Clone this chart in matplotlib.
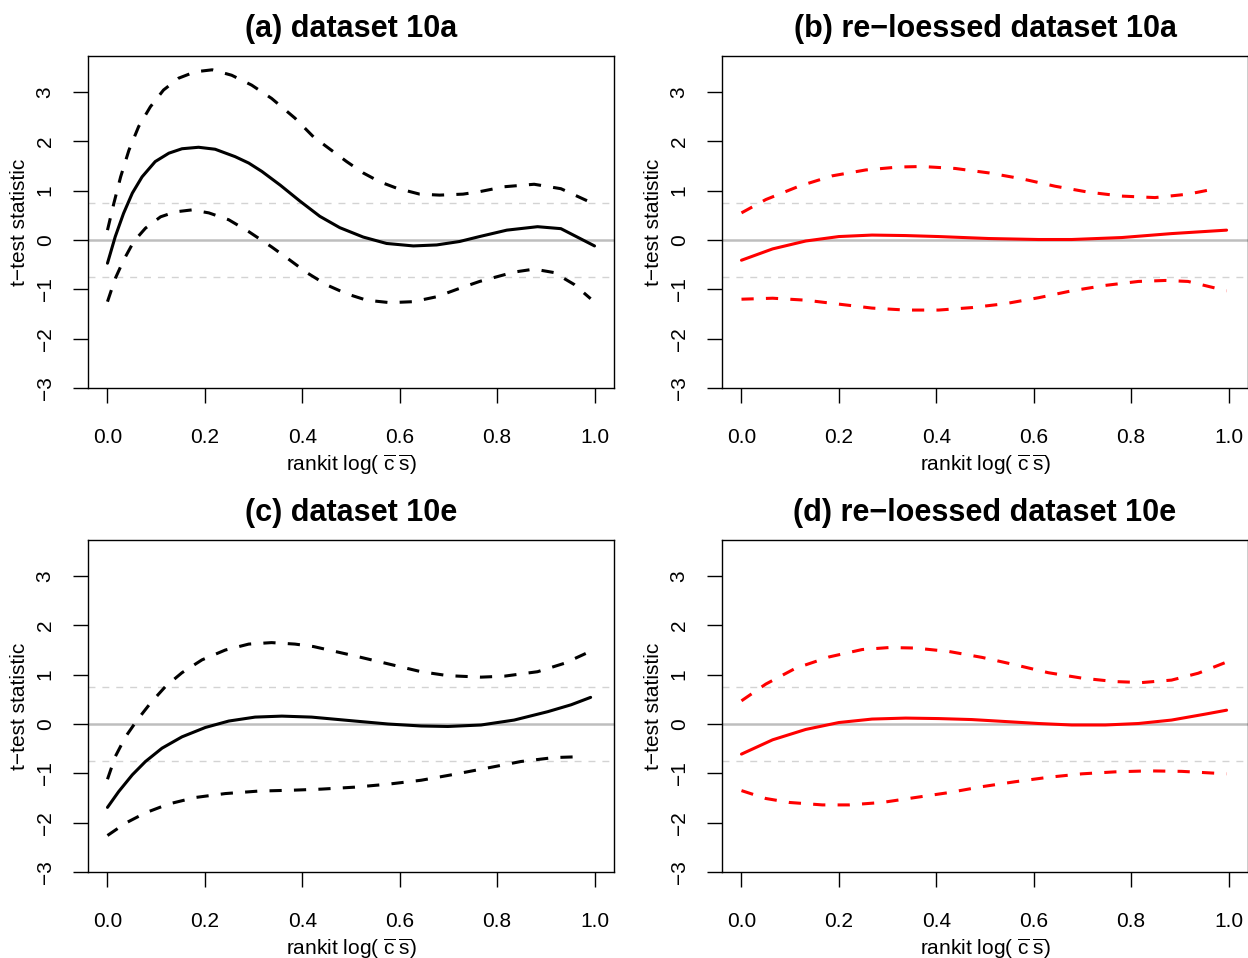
import matplotlib
matplotlib.use("Agg")
import matplotlib.pyplot as plt

plt.rcParams["font.family"] = ["Liberation Sans", "DejaVu Sans"]
plt.rcParams["mathtext.fontset"] = "custom"
plt.rcParams["mathtext.rm"] = "Liberation Sans"
plt.rcParams["mathtext.it"] = "Liberation Sans:italic"

# reference band for the t statistic
band = 0.75

# (a) dataset 10a
a_mid_x = [0, 0.016, 0.033, 0.051, 0.071, 0.098, 0.126, 0.153, 0.187, 0.221, 0.262,
           0.290, 0.317, 0.355, 0.395, 0.436, 0.477, 0.525, 0.573, 0.628, 0.676, 0.723,
           0.764, 0.820, 0.883, 0.931, 1.0]
a_mid_y = [-0.47, 0.07, 0.54, 0.95, 1.28, 1.59, 1.76, 1.85, 1.88, 1.84, 1.69,
           1.56, 1.39, 1.11, 0.79, 0.48, 0.25, 0.06, -0.07, -0.12, -0.10, -0.03,
           0.07, 0.20, 0.27, 0.23, -0.12]
a_up_x = [0, 0.013, 0.027, 0.044, 0.064, 0.088, 0.115, 0.146, 0.180, 0.215, 0.255,
          0.296, 0.337, 0.385, 0.423, 0.457, 0.491, 0.525, 0.559, 0.594, 0.641,
          0.682, 0.730, 0.764, 0.815, 0.876, 0.931, 0.986, 1.0]
a_up_y = [0.20, 0.74, 1.28, 1.82, 2.30, 2.70, 3.04, 3.28, 3.41, 3.45, 3.34,
          3.14, 2.87, 2.47, 2.09, 1.84, 1.59, 1.36, 1.18, 1.05, 0.93,
          0.91, 0.93, 0.98, 1.08, 1.13, 1.04, 0.79, 0.74]
a_lo_x = [0, 0.016, 0.033, 0.054, 0.078, 0.109, 0.139, 0.173, 0.208, 0.249, 0.290,
          0.337, 0.368, 0.409, 0.450, 0.491, 0.532, 0.580, 0.628, 0.676, 0.723,
          0.764, 0.835, 0.876, 0.917, 0.958, 0.992]
a_lo_y = [-1.25, -0.78, -0.41, -0.03, 0.24, 0.47, 0.57, 0.61, 0.55, 0.41, 0.17,
          -0.14, -0.36, -0.66, -0.91, -1.09, -1.22, -1.27, -1.25, -1.15, -0.98,
          -0.84, -0.65, -0.59, -0.66, -0.90, -1.19]

# (b) re-loessed dataset 10a
b_mid_x = [0, 0.064, 0.132, 0.200, 0.268, 0.337, 0.405, 0.508, 0.610, 0.678,
           0.781, 0.883, 0.996]
b_mid_y = [-0.41, -0.18, -0.02, 0.07, 0.10, 0.09, 0.07, 0.03, 0.01, 0.01,
           0.05, 0.13, 0.20]
b_up_x = [0, 0.05, 0.118, 0.186, 0.255, 0.323, 0.371, 0.439, 0.508, 0.576, 0.644,
          0.712, 0.781, 0.849, 0.917, 0.979]
b_up_y = [0.55, 0.82, 1.09, 1.30, 1.42, 1.48, 1.49, 1.45, 1.36, 1.24, 1.09,
          0.97, 0.89, 0.86, 0.93, 1.05]
b_lo_x = [0, 0.064, 0.132, 0.2, 0.268, 0.337, 0.405, 0.473, 0.542, 0.610, 0.678,
          0.747, 0.815, 0.870, 0.917, 0.996]
b_lo_y = [-1.20, -1.18, -1.22, -1.30, -1.38, -1.42, -1.42, -1.37, -1.29, -1.17, -1.03,
          -0.92, -0.84, -0.82, -0.84, -1.03]

# (c) dataset 10e
c_mid_x = [0, 0.023, 0.051, 0.078, 0.112, 0.153, 0.201, 0.249, 0.303, 0.358, 0.419,
           0.508, 0.576, 0.644, 0.699, 0.767, 0.835, 0.904, 0.952, 0.992]
c_mid_y = [-1.69, -1.37, -1.03, -0.76, -0.49, -0.26, -0.07, 0.06, 0.14, 0.16, 0.14,
           0.06, 0.00, -0.04, -0.05, -0.02, 0.08, 0.25, 0.39, 0.54]
c_up_x = [0, 0.016, 0.037, 0.061, 0.088, 0.119, 0.153, 0.194, 0.242, 0.290, 0.337,
          0.385, 0.423, 0.508, 0.576, 0.644, 0.699, 0.767, 0.815, 0.883,
          0.938, 0.982]
c_up_y = [-1.12, -0.66, -0.26, 0.08, 0.42, 0.76, 1.04, 1.30, 1.50, 1.62, 1.65,
          1.62, 1.57, 1.38, 1.22, 1.06, 0.98, 0.95, 0.97, 1.06,
          1.23, 1.43]
c_lo_x = [0, 0.037, 0.078, 0.126, 0.180, 0.242, 0.310, 0.385, 0.439, 0.508, 0.576,
          0.644, 0.712, 0.781, 0.849, 0.917, 0.979]
c_lo_y = [-2.26, -2.01, -1.80, -1.62, -1.49, -1.41, -1.36, -1.34, -1.32, -1.28, -1.22,
          -1.14, -1.02, -0.89, -0.76, -0.68, -0.66]

# (d) re-loessed dataset 10e
d_mid_x = [0, 0.064, 0.132, 0.200, 0.268, 0.337, 0.405, 0.473, 0.542, 0.610, 0.678,
           0.747, 0.815, 0.883, 0.952, 0.996]
d_mid_y = [-0.61, -0.32, -0.11, 0.03, 0.10, 0.12, 0.11, 0.09, 0.05, 0.01, -0.02,
           -0.02, 0.01, 0.08, 0.20, 0.28]
d_up_x = [0, 0.05, 0.111, 0.180, 0.248, 0.303, 0.357, 0.426, 0.494, 0.562, 0.630,
          0.699, 0.767, 0.822, 0.883, 0.938, 0.992]
d_up_y = [0.47, 0.81, 1.13, 1.36, 1.51, 1.55, 1.54, 1.47, 1.35, 1.20, 1.04,
          0.93, 0.86, 0.84, 0.89, 1.03, 1.24]
d_lo_x = [0, 0.05, 0.098, 0.166, 0.221, 0.289, 0.357, 0.426, 0.494, 0.562, 0.630,
          0.699, 0.767, 0.835, 0.904, 0.996]
d_lo_y = [-1.35, -1.51, -1.59, -1.64, -1.64, -1.59, -1.49, -1.39, -1.27, -1.17, -1.08,
          -1.01, -0.97, -0.95, -0.96, -1.01]

titles = ["(a) dataset 10a", "(b) re\u2212loessed dataset 10a",
          "(c) dataset 10e", "(d) re\u2212loessed dataset 10e"]
x_ticks = [0.0, 0.2, 0.4, 0.6, 0.8, 1.0]
y_ticks = [-3, -2, -1, 0, 1, 2, 3]

W, H = 1248, 958
fig = plt.figure(figsize=(W / 100, H / 100), dpi=100)

# axes boxes in pixels: left, top
boxes = [(88, 56), (722, 56), (88, 540), (722, 540)]
box_w, box_h = 526, 332

panels = [
    (a_mid_x, a_mid_y, a_up_x, a_up_y, a_lo_x, a_lo_y, "black"),
    (b_mid_x, b_mid_y, b_up_x, b_up_y, b_lo_x, b_lo_y, "#ff0000"),
    (c_mid_x, c_mid_y, c_up_x, c_up_y, c_lo_x, c_lo_y, "black"),
    (d_mid_x, d_mid_y, d_up_x, d_up_y, d_lo_x, d_lo_y, "#ff0000"),
]

for (left, top), title, (mx, my, ux, uy, lx, ly, col) in zip(boxes, titles, panels):
    ax = fig.add_axes([left / W, (H - top - box_h) / H, box_w / W, box_h / H])

    # reference lines
    ax.axhline(0, color="#bebebe", lw=1.8, zorder=1)
    ax.axhline(band, color="#d3d3d3", lw=1.0, dashes=(5, 5), zorder=1)
    ax.axhline(-band, color="#d3d3d3", lw=1.0, dashes=(5, 5), zorder=1)

    ax.plot(mx, my, color=col, lw=2.2, solid_joinstyle="round",
            solid_capstyle="round", zorder=3)
    ax.plot(ux, uy, color=col, lw=2.2, dashes=(4, 4), zorder=3)
    ax.plot(lx, ly, color=col, lw=2.2, dashes=(4, 4), zorder=3)

    ax.set_xlim(-0.04, 1.04)
    ax.set_ylim(-3, 3.73)
    ax.set_xticks(x_ticks)
    ax.set_xticklabels([f"{t:.1f}" for t in x_ticks])
    ax.set_yticks(y_ticks)
    ax.set_yticklabels([str(t).replace("-", "\u2212") for t in y_ticks])
    ax.tick_params(axis="both", direction="out", length=11, width=1.0,
                   labelsize=15, colors="black")
    ax.tick_params(axis="x", pad=18)
    ax.tick_params(axis="y", pad=13, labelrotation=90)
    for lab in ax.get_yticklabels():
        lab.set_va("center")
    for sp in ax.spines.values():
        sp.set_linewidth(1.0)

    ax.set_title(title, fontsize=22, fontweight="bold", pad=14)
    ax.set_xlabel(r"rankit log( $\overline{\mathrm{c}}\;\overline{\mathrm{s}}$)",
                  fontsize=15, labelpad=4)
    ax.set_ylabel("t\u2212test statistic", fontsize=15, labelpad=4.5)

fig.savefig("out.png", dpi=100)
